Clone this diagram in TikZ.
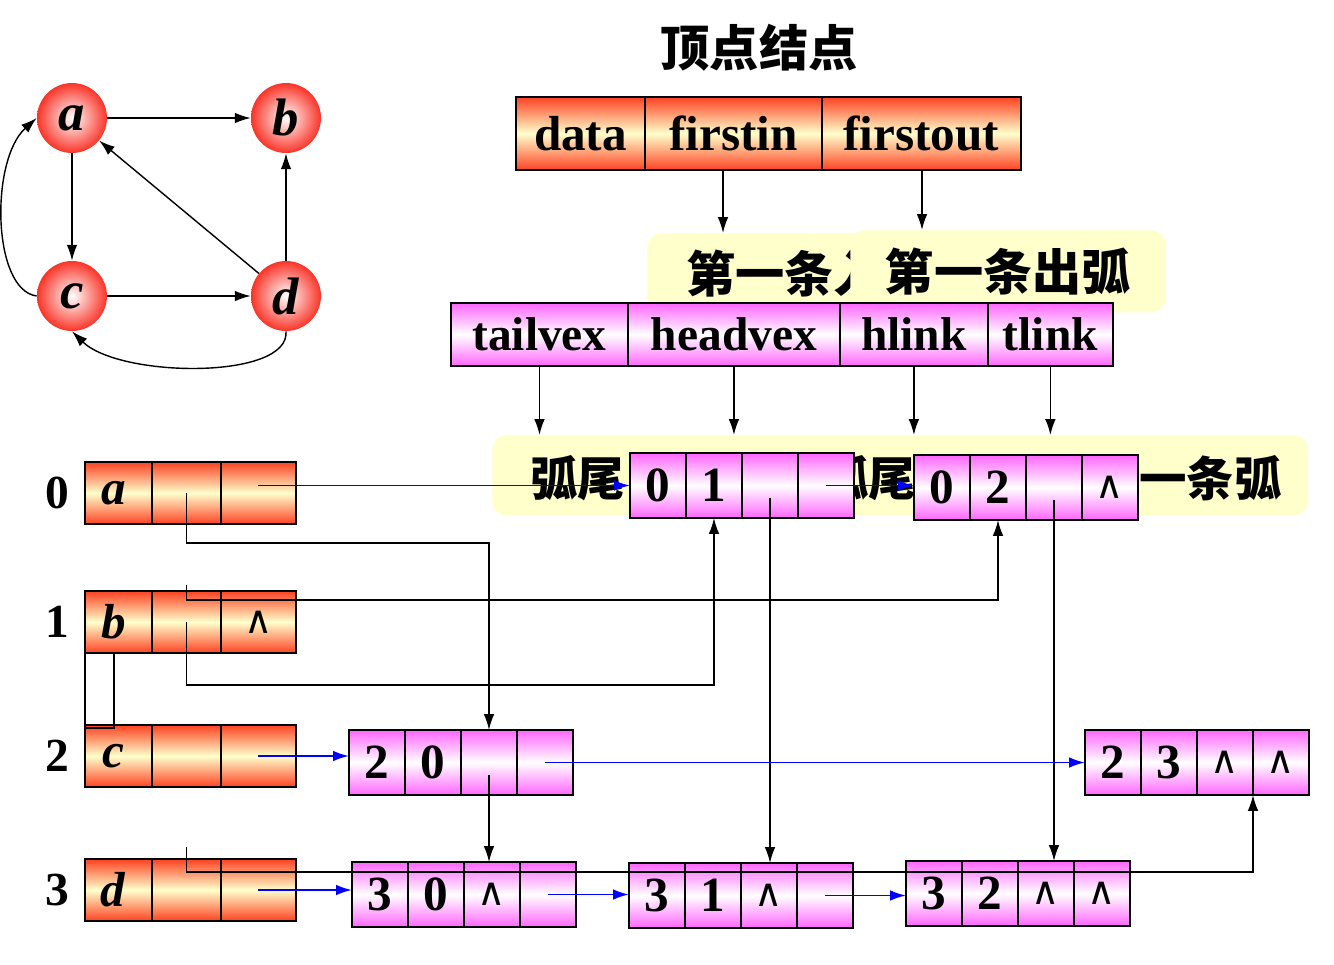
\documentclass[tikz,border=0pt]{standalone}
\usepackage{fontspec}
\setmainfont{Liberation Serif}
\newfontfamily\cjk{Noto Sans CJK SC}
\newfontfamily\symf{DejaVu Sans}
\usepackage{tikz}
\usetikzlibrary{arrows.meta, positioning, calc}

\definecolor{vred}{RGB}{255,66,34}
\definecolor{vyel}{RGB}{255,255,204}
\definecolor{emag}{RGB}{255,102,255}
\definecolor{noteyel}{RGB}{255,255,204}
\definecolor{gred}{RGB}{250,52,40}

\newcommand{\NIL}{{\symf\mdseries\fontsize{22}{22}\selectfont ∧}}
\newcommand{\arcrec}[4]{\foreach \t [count=\k] in {#4} {\node[ecell, anchor=north west] (#1-\k) at ({#2+(\k-1)*56},#3) {\t};}}

\tikzset{
	vertex/.style={circle, minimum size=1.4cm, inner sep=0pt, inner color=white, outer color=gred, font=\fontsize{30}{30}\selectfont\bfseries\itshape},
	edge/.style={line width=0.8pt, -{Latex[length=9pt,width=6pt]}},
	vcell/.style={draw, line width=1pt, outer sep=0pt, inner sep=0pt, minimum height=1.24cm, top color=vred, bottom color=vred, middle color=vyel, font=\fontsize{28}{28}\selectfont\bfseries},
	hcell/.style={vcell, minimum height=1.46cm},
	ecell/.style={draw, line width=1pt, outer sep=0pt, inner sep=0pt, minimum width=1.12cm, minimum height=1.3cm, top color=emag, bottom color=emag, middle color=white, font=\fontsize{28}{28}\selectfont\bfseries},
	acell/.style={ecell, minimum height=1.26cm, font=\fontsize{27}{27}\selectfont\bfseries},
	notebox/.style={fill=noteyel, rounded corners=8pt, inner sep=0pt, font=\cjk\bfseries\fontsize{28}{30}\selectfont},
	bandtext/.style={inner sep=0pt, anchor=west, font=\cjk\bfseries\fontsize{27}{30}\selectfont},
	idx/.style={inner sep=0pt, font=\fontsize{27}{27}\selectfont\bfseries},
	link/.style={line width=0.9pt, -{Latex[length=9pt,width=6pt]}},
	plain/.style={line width=0.9pt},
	nextp/.style={blue, line width=1.1pt, -{Latex[length=9pt,width=6pt]}}
}

\begin{document}
\begin{tikzpicture}[x=0.02cm, y=-0.02cm]
	\useasboundingbox (0,0) rectangle (1334,964);

	\node[vertex] (A) at (72,118) {a};
	\node[vertex] (B) at (286,118) {b};
	\node[vertex] (C) at (72,296) {c};
	\node[vertex] (D) at (286,296) {d};
	\draw[edge] (A) -- (B);
	\draw[edge] (A) -- (C);
	\draw[edge] (D) -- (A);
	\draw[edge] (D) -- (B);
	\draw[edge] (C) -- (D);
	\draw[edge] (C.west) .. controls (-8,290) and (-10,160) .. (A.west);
	\draw[edge] (D.south) .. controls (290,380) and (120,378) .. (C.south);

	\node[font=\cjk\bfseries\fontsize{28}{30}\selectfont] (TITLE) at (759,48) {顶点结点};
	\node[hcell, minimum width=2.58cm, anchor=north west] (HD1) at (516,97) {data};
	\node[hcell, minimum width=3.54cm, anchor=north west] (HD2) at (HD1.north east) {firstin};
	\node[hcell, minimum width=3.98cm, anchor=north west] (HD3) at (HD2.north east) {firstout};

	\node[notebox, anchor=north west, minimum width=6.48cm, minimum height=1.6cm] (INBOX) at (647,233) {第一条入弧};
	\node[notebox, anchor=north west, minimum width=6.3cm, minimum height=1.64cm] (OUTBOX) at (850,230) {第一条出弧};
	\coordinate (INTIP) at (723,233);
	\coordinate (OUTTIP) at (922,230);
	\draw[link] (INTIP |- HD2.south) -- (INTIP);
	\draw[link] (OUTTIP |- HD3.south) -- (OUTTIP);

	\node[acell, minimum width=3.54cm, anchor=north west] (AH1) at (451,303) {tailvex};
	\node[acell, minimum width=4.24cm, anchor=north west] (AH2) at (AH1.north east) {headvex};
	\node[acell, minimum width=2.96cm, anchor=north west] (AH3) at (AH2.north east) {hlink};
	\node[acell, minimum width=2.5cm, anchor=north west] (AH4) at (AH3.north east) {tlink};

	\node[notebox, anchor=north west, minimum width=16.32cm, minimum height=1.6cm] (BAND) at (492,435) {};
	\foreach \k in {1,...,4}
		\draw[link] (AH\k.south) -- (AH\k.south |- BAND.north);
	\node[bandtext] (BT1) at (530,478) {弧尾};
	\node[bandtext] (BT2) at (821,478) {弧尾};
	\node[bandtext] (BT3) at (1139,478) {一条弧};

	\foreach \i/\v/\y/\t in {0/a/462/{}, 1/b/591/\NIL, 2/c/725/{}, 3/d/859/{}} {
		\node[vcell, minimum width=1.34cm, anchor=north west] (V\v1) at (85,\y) {\hspace{-0.2cm}\textit{\v}};
		\node[vcell, minimum width=1.38cm, anchor=north west] (V\v2) at (V\v1.north east) {};
		\node[vcell, minimum width=1.5cm, anchor=north west] (V\v3) at (V\v2.north east) {\t};
		\node[idx, left=0.3cm of V\v1] (I\i) {\i};
	}

	\arcrec{E01}{630}{453}{0,1,{},{}}
	\arcrec{E02}{914}{455}{0,2,{},\NIL}
	\arcrec{E20}{349}{730}{2,0,{},{}}
	\arcrec{E23}{1085}{730}{2,3,\NIL,\NIL}
	\arcrec{E30}{352}{862}{3,0,\NIL,{}}
	\arcrec{E31}{629}{863}{3,1,\NIL,{}}
	\arcrec{E32}{906}{861}{3,2,\NIL,\NIL}

	\draw[plain] (Vb1.south west) rectangle ($(Vc1.north west)+(29,3)$);
	\draw[link] (Va2.center) -- ++(0,50) -| (E20-3.north);
	\draw[link] (Vb2.center) -- ++(0,63) -| (E01-2.south);
	\draw[link] (Vb2.north) ++(0,-6) -- ++(0,15) -| (E02-2.south);
	\draw[link] (Vd2.north) ++(0,-12) -- ++(0,25) -| (E23-3.south east);
	\draw[link] ($(E01-3.center)+(0,12)$) -- (E01-3.center |- E31-3.north);
	\draw[link] ($(E02-3.center)+(0,12)$) -- (E02-3.center |- E32-3.north);
	\draw[link] ($(E20-3.center)+(0,12)$) -- (E20-3.center |- E30-3.north);

	\draw[nextp] (Va3.center |- E01-1.west) -- (E01-1.west);
	\draw[nextp] (E01-4.center) -- (E01-4.center -| E02-1.west);
	\draw[nextp] (Vc3.center) -- (Vc3.center -| E20-1.west);
	\draw[nextp] (E20-4.center) -- (E20-4.center -| E23-1.west);
	\draw[nextp] (Vd3.center) -- (Vd3.center -| E30-1.west);
	\draw[nextp] (E30-4.center) -- (E30-4.center -| E31-1.west);
	\draw[nextp] (E31-4.center) -- (E31-4.center -| E32-1.west);
\end{tikzpicture}
\end{document}
